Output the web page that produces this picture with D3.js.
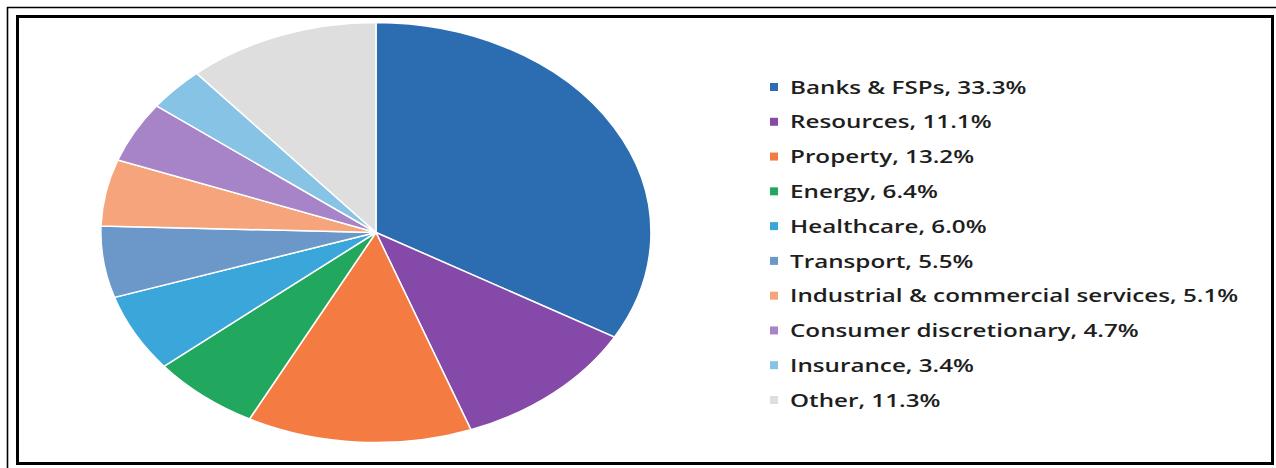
<!DOCTYPE html>
<html><head><meta charset="utf-8">
<script src="https://cdn.jsdelivr.net/npm/d3@7"></script>
<style>html,body{margin:0;padding:0;background:#fff;}svg{display:block;}</style>
</head><body>
<svg id="chart" width="1276" height="468"></svg>
<script>
const categories = ["Banks & FSPs","Resources","Property","Energy","Healthcare","Transport","Industrial & commercial services","Consumer discretionary","Insurance","Other"];
const values = [33.3,11.1,13.2,6.4,6.0,5.5,5.1,4.7,3.4,11.3];
const colors = ["#2b6db0","#8549aa","#f47c42","#22a85e","#3aa6da","#6b98c9","#f6a47b","#a783c7","#86c3e4","#dedede"];

const svg = d3.select("#chart");
// frame
svg.append("line").attr("x1",7).attr("y1",7.5).attr("x2",1276).attr("y2",7.5).attr("stroke","#000").attr("stroke-width",1.6);
svg.append("line").attr("x1",7.5).attr("y1",7).attr("x2",7.5).attr("y2",468).attr("stroke","#000").attr("stroke-width",1.6);
svg.append("rect").attr("x",17.5).attr("y",16.5).attr("width",1255).attr("height",447).attr("fill","#fff").attr("stroke","#000").attr("stroke-width",3);

const cx = 376, cy = 232.5, rx = 275, ry = 210;
const pie = d3.pie().sort(null).value(d=>d);
const arcs = pie(values);
const arc = d3.arc().innerRadius(0).outerRadius(1);
const g = svg.append("g").attr("transform",`translate(${cx},${cy}) scale(${rx},${ry})`);
g.selectAll("path").data(arcs).join("path")
  .attr("d",arc)
  .attr("fill",(d,i)=>colors[i])
  .attr("stroke","#fff").attr("stroke-width",1.5)
  .attr("vector-effect","non-scaling-stroke");

const y = d3.scalePoint().domain(categories).range([87,400]);
const leg = svg.append("g");
const items = leg.selectAll("g").data(categories).join("g").attr("transform",d=>`translate(770,${y(d)})`);
items.append("rect").attr("x",0).attr("y",-4).attr("width",8).attr("height",8).attr("fill",(d,i)=>colors[i]);
items.append("text").attr("transform","translate(20,0) scale(1.31,1)").attr("x",0).attr("y",0).attr("dy","0.36em")
  .attr("font-family","'Open Sans', sans-serif").attr("font-weight",600).attr("font-size",18.5)
  .attr("fill","#1e1e1e")
  .text((d,i)=>`${d}, ${values[i].toFixed(1)}%`);
</script>
</body></html>
